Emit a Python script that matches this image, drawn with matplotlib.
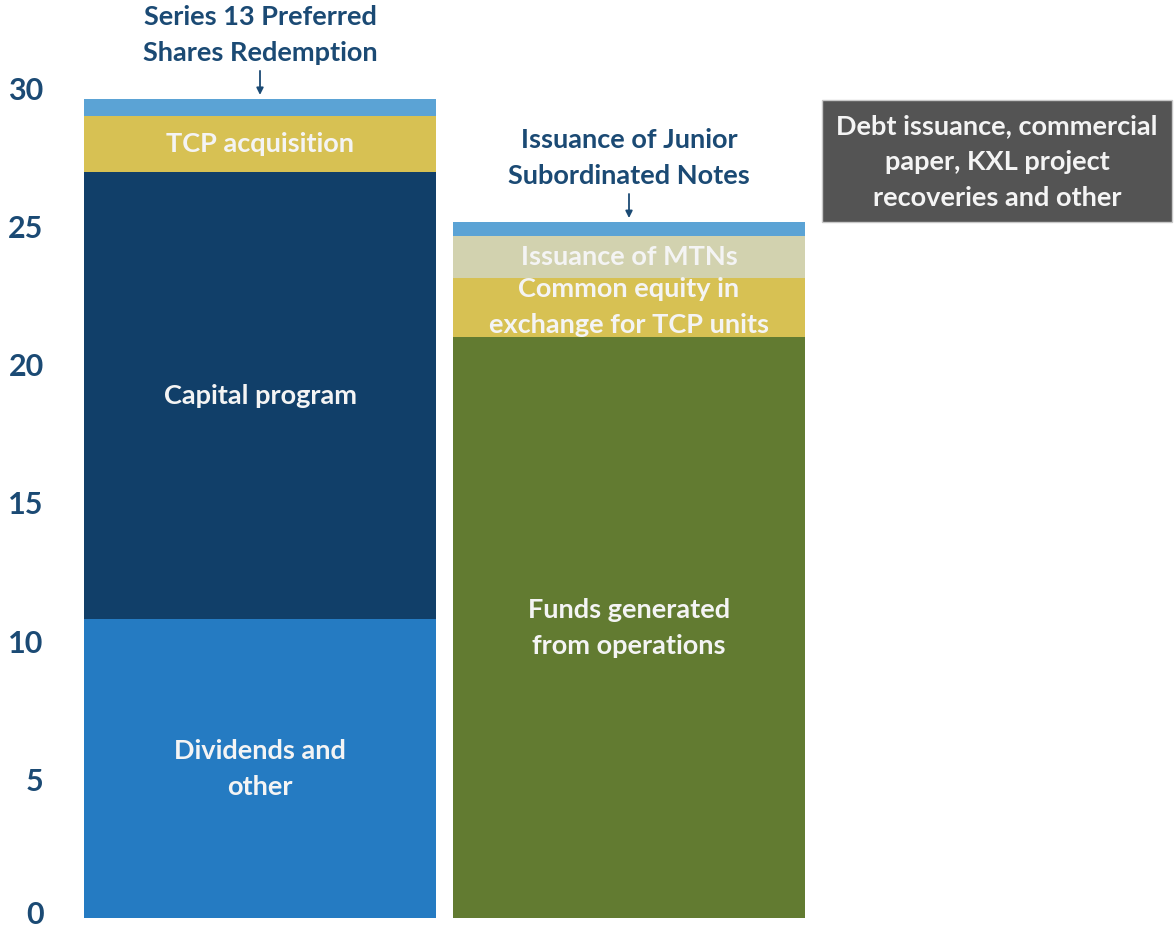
import matplotlib.pyplot as plt
from matplotlib.patches import Rectangle
from matplotlib.transforms import ScaledTranslation

plt.rcParams['font.family'] = ['Lato', 'DejaVu Sans']
plt.rcParams['font.weight'] = 'bold'

# data
uses_labels = ["Dividends and\nother", "Capital program", "TCP acquisition", "Series 13 Preferred\nShares Redemption"]
uses_values = [10.8, 16.15, 2.05, 0.6]
uses_colors = ["#257BC2", "#113F69", "#D7C153", "#5BA3D5"]

src_labels = ["Funds generated\nfrom operations", "Common equity in\nexchange for TCP units", "Issuance of MTNs",
              "Issuance of Junior\nSubordinated Notes"]
src_values = [21.0, 2.15, 1.5, 0.5]
src_colors = ["#627B31", "#D7C153", "#D2D2AF", "#5BA3D5"]

other_label = "Debt issuance, commercial\npaper, KXL project\nrecoveries and other"
yticks = [0, 5, 10, 15, 20, 25, 30]

W, H = 1174, 931
fig = plt.figure(figsize=(W / 100, H / 100), dpi=100)
ax = fig.add_axes([84 / W, 13 / H, (805 - 84) / W, (919 - 89) / H])

w = 352 / 369
navy = "#1B4A74"
txt = "#F4F4F4"
fs = 19.5
ls = 1.6

def stack(x, values, colors, labels, top_note):
    bottom = 0
    n = len(values)
    for i, (v, c, lab) in enumerate(zip(values, colors, labels)):
        ax.bar(x, v, width=w, bottom=bottom, color=c, edgecolor="none")
        if i < n - 1:
            ax.text(x, bottom + v / 2, lab, ha="center", va="center", color=txt,
                    fontsize=fs, fontweight="bold", linespacing=ls)
        bottom += v
    # note above the bar with a small arrow
    ax.annotate(top_note, xy=(x, bottom + 0.15), xytext=(x, bottom + 1.22),
                ha="center", va="bottom", color=navy, fontsize=fs, fontweight="bold",
                linespacing=ls, annotation_clip=False,
                arrowprops=dict(arrowstyle="-|>", color=navy, lw=1.3, mutation_scale=10,
                                shrinkA=2, shrinkB=0))

stack(0, uses_values, uses_colors, uses_labels, uses_labels[-1])
stack(1, src_values, src_colors, src_labels, src_labels[-1])

ax.set_xlim(-w / 2, 1 + w / 2)
ax.set_ylim(0, 30)
ax.set_yticks(yticks)
ax.set_yticklabels([str(t) for t in yticks], fontsize=22, fontweight="bold", color=navy)
ax.tick_params(axis="y", length=0, pad=29)
ax.set_xticks([])
for s in ax.spines.values():
    s.set_visible(False)

# keep the "0" label inside the canvas
zero = ax.get_yticklabels()[0]
zero.set_transform(zero.get_transform() + ScaledTranslation(0, 4 / 72, fig.dpi_scale_trans))

# grey box on the right
fig.patches.append(Rectangle((822 / W, 1 - 222 / H), 350 / W, 122 / H, transform=fig.transFigure,
                             facecolor="#545454", edgecolor="#C8C8C8", lw=1))
fig.text(997 / W, 1 - 162 / H, other_label, ha="center", va="center", color=txt,
         fontsize=fs, fontweight="bold", linespacing=ls)

fig.savefig("out.png", dpi=100)
